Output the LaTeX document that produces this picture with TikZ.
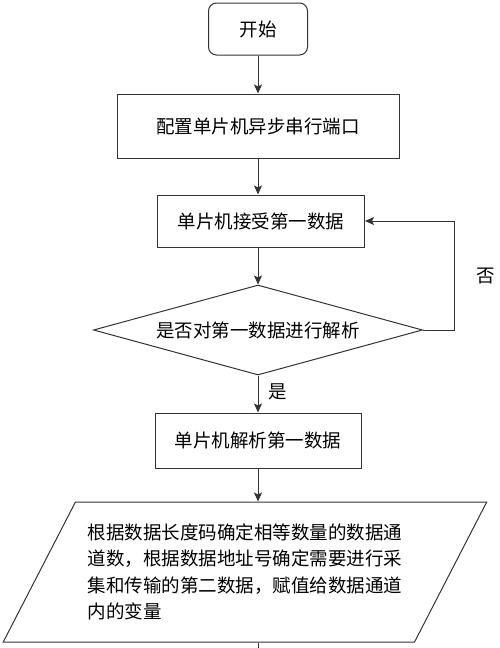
\documentclass[tikz,border=0pt]{standalone}
\usepackage{fontspec}
\newfontfamily\cjk{Noto Sans CJK SC}
\usetikzlibrary{arrows.meta,positioning,shapes.geometric}

\begin{document}
\begin{tikzpicture}[->,>={Stealth[length=9pt,width=8pt,inset=2pt]},x=1pt,y=-1pt,line width=1pt,draw=black!80,
every node/.style={font=\cjk\fontsize{18.5}{26.5}\selectfont},
box node/.style={rectangle,draw=black!80,inner sep=0pt,minimum height=52pt},
start node/.style={box node,rounded corners=8pt,minimum width=99pt},
check node/.style={diamond,draw=black!80,inner sep=0pt,aspect=3.6,minimum width=329pt,minimum height=90pt},
io node/.style={trapezium,draw=black!80,inner sep=0pt,trapezium left angle=55.3,trapezium right angle=124.7,
  trapezium stretches=true,minimum width=484pt,minimum height=140pt,align=left}]

\useasboundingbox (0,0) rectangle (500,648);

\node[start node] (start) at (258,29) {开始};
\node[box node] (config) [below=38pt of start, minimum width=282pt, minimum height=64pt] {配置单片机异步串行端口};
\node[box node] (recv) [below=36pt of config, xshift=3pt, minimum width=207pt] {单片机接受第一数据};
\node[check node] (check) [below=37pt of recv, xshift=-3pt] {是否对第一数据进行解析};
\node[box node] (parse) [below=37pt of check, minimum width=206pt, minimum height=55pt] {单片机解析第一数据};
\node[io node] (assign) [below=33pt of parse, xshift=-13pt]
  {根据数据长度码确定相等数量的数据通\\道数，根据数据地址号确定需要进行采\\集和传输的第二数据，赋值给数据通道\\内的变量};
\coordinate (out) at (258,648);

\path[every node/.style={font=\cjk\fontsize{18.5}{26.5}\selectfont}]
(start) edge (config)
(config.south) edge (config.south |- recv.north)
(check.north |- recv.south) edge (check)
(check) edge node[pos=0.45,right=7pt] {是} (parse)
(parse.south) edge (parse.south |- assign.north)
;
\draw[-] (parse.south |- assign.south) -- (out);
\draw (check.east) -- ++(31,0) |- node[pos=0.25,right=19pt] {否} (recv.east);
\end{tikzpicture}
\end{document}
